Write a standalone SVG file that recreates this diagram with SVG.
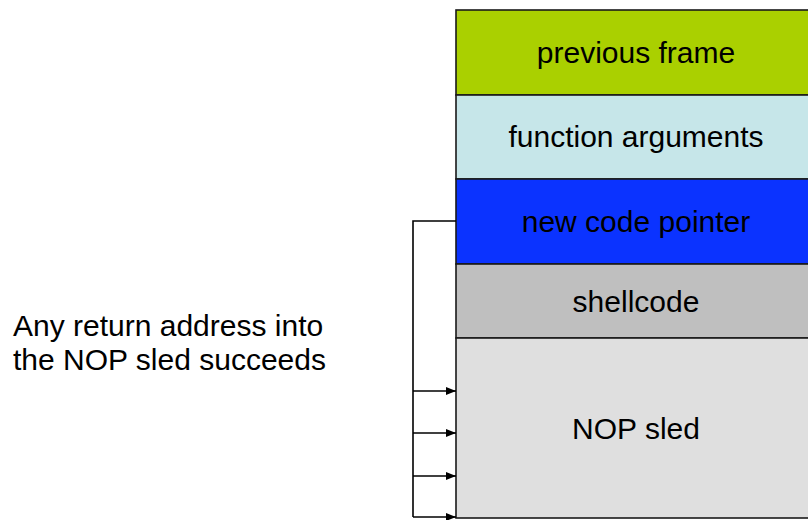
<svg xmlns="http://www.w3.org/2000/svg" width="808" height="520" viewBox="0 0 808 520">
<style>
.box{stroke:#1a1a1a;stroke-width:1.6}
.lbl{font-family:"Liberation Sans",Arial,sans-serif;font-size:30px;fill:#000;text-anchor:middle}
.note{font-family:"Liberation Sans",Arial,sans-serif;font-size:30px;fill:#000}
.wire{fill:none;stroke:#000;stroke-width:1.6}
</style>
<defs>
<marker id="ah" viewBox="0 0 10 8" refX="10" refY="4" markerWidth="11" markerHeight="8" markerUnits="userSpaceOnUse" orient="auto">
<path d="M0,0 L10,4 L0,8 Z" fill="#000"/>
</marker>
</defs>
<rect width="808" height="520" fill="#fff"/>
<g id="previous-frame">
<rect class="box" x="456" y="10" width="362" height="85" fill="#aad000"/>
<text class="lbl" x="636" y="63">previous frame</text>
</g>
<g id="function-arguments">
<rect class="box" x="456" y="95" width="362" height="84" fill="#c6e6e9"/>
<text class="lbl" x="636" y="147">function arguments</text>
</g>
<g id="new-code-pointer">
<rect class="box" x="456" y="179" width="362" height="85" fill="#0b33ff"/>
<text class="lbl" x="636" y="232">new code pointer</text>
</g>
<g id="shellcode">
<rect class="box" x="456" y="264" width="362" height="74" fill="#bfbfbf"/>
<text class="lbl" x="636" y="312">shellcode</text>
</g>
<g id="nop-sled">
<rect class="box" x="456" y="338" width="362" height="180" fill="#dfdfdf"/>
<text class="lbl" x="636" y="439">NOP sled</text>
</g>
<g id="note">
<text class="note" x="13" y="336">Any return address into</text>
<text class="note" x="13" y="370">the NOP sled succeeds</text>
</g>
<g id="connectors">
<path class="wire" d="M456,221 H413 V517"/>
<path class="wire" d="M413,391 H456" marker-end="url(#ah)"/>
<path class="wire" d="M413,433 H456" marker-end="url(#ah)"/>
<path class="wire" d="M413,476 H456" marker-end="url(#ah)"/>
<path class="wire" d="M413,517 H456" marker-end="url(#ah)"/>
</g>
</svg>
